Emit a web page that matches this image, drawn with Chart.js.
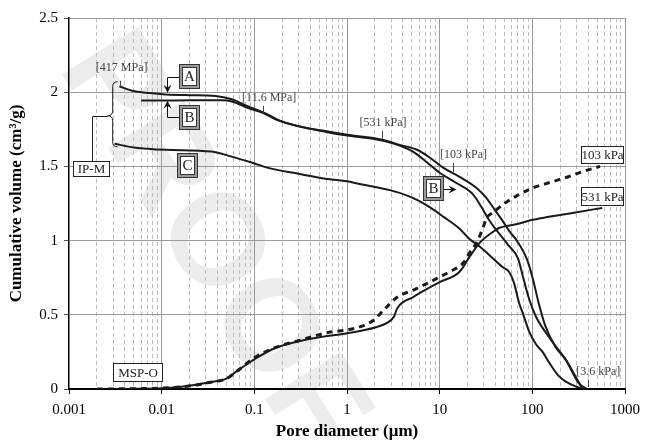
<!DOCTYPE html>
<html>
<head>
<meta charset="utf-8">
<script src="https://cdn.jsdelivr.net/npm/chart.js@4.4.1/dist/chart.umd.min.js"></script>
<style>
  html, body { margin: 0; padding: 0; background: #fff; }
</style>
</head>
<body>
<canvas id="poreChart" width="647" height="443"></canvas>
<script>
// IP-M, sample A
const diamA = [0.0035, 0.0048, 0.0074, 0.011, 0.02, 0.038, 0.057, 0.086, 0.13, 0.18, 0.3, 0.62, 1, 2.4, 3.7, 5.7, 7.8, 11, 16.4, 25, 31.7, 40, 47, 57, 68, 88, 101, 117, 139, 178, 230, 316, 390];
const volA = [2.04, 2.01, 1.994, 1.985, 1.98, 1.975, 1.953, 1.904, 1.859, 1.814, 1.77, 1.735, 1.713, 1.68, 1.645, 1.612, 1.56, 1.49, 1.43, 1.355, 1.29, 1.2, 1.14, 1.06, 1.0, 0.87, 0.745, 0.58, 0.42, 0.283, 0.196, 0.04, 0];

// IP-M, sample B
const diamB = [0.006, 0.01, 0.02, 0.045, 0.057, 0.086, 0.13, 0.18, 0.62, 1, 2.4, 3.7, 5.2, 7.2, 10, 15, 23, 28, 34, 41, 55, 70, 79, 92, 109, 151, 230, 295, 348];
const volB = [1.944, 1.944, 1.945, 1.945, 1.937, 1.893, 1.855, 1.81, 1.73, 1.708, 1.675, 1.64, 1.598, 1.53, 1.457, 1.39, 1.31, 1.23, 1.14, 1.07, 0.97, 0.88, 0.76, 0.61, 0.49, 0.35, 0.196, 0.08, 0];

// IP-M, sample C
const diamC = [0.0031, 0.005, 0.011, 0.0345, 0.057, 0.1, 0.141, 0.3, 0.62, 1, 1.3, 2.9, 4.4, 5.7, 7.8, 11, 16.4, 21, 27, 34, 48, 56, 63, 72, 80, 92, 110, 129, 151, 191, 230, 300, 350];
const volC = [1.652, 1.628, 1.612, 1.6, 1.566, 1.52, 1.49, 1.45, 1.415, 1.4, 1.385, 1.34, 1.305, 1.274, 1.225, 1.16, 1.08, 1.01, 0.96, 0.905, 0.82, 0.79, 0.72, 0.58, 0.5, 0.39, 0.3, 0.25, 0.18, 0.09, 0.05, 0.015, 0];

// MSP-O, 531 kPa (solid)
const diam531 = [0.0035, 0.005, 0.01, 0.0154, 0.03, 0.041, 0.05, 0.063, 0.08, 0.1, 0.168, 0.295, 0.52, 1.0, 2.1, 2.7, 3.2, 3.5, 5.2, 10, 16.4, 21, 27, 37.8, 43.6, 67, 100, 151, 292, 568];
const vol531 = [0, 0.001, 0.005, 0.013, 0.04, 0.055, 0.07, 0.115, 0.16, 0.2, 0.276, 0.32, 0.35, 0.375, 0.418, 0.445, 0.486, 0.546, 0.62, 0.72, 0.79, 0.89, 0.985, 1.06, 1.085, 1.11, 1.14, 1.16, 1.19, 1.22];

// MSP-O, 103 kPa (dashed)
const diam103 = [0.002, 0.005, 0.01, 0.02, 0.03, 0.05, 0.065, 0.1, 0.17, 0.3, 0.66, 1.0, 1.4, 1.95, 2.5, 3.5, 5.2, 7.8, 10, 12.8, 18, 21, 25, 29.5, 32, 37.8, 50, 67, 101, 151, 219, 347, 537];
const vol103 = [0, 0.002, 0.006, 0.02, 0.04, 0.07, 0.12, 0.21, 0.28, 0.325, 0.384, 0.398, 0.42, 0.465, 0.533, 0.62, 0.667, 0.72, 0.755, 0.79, 0.85, 0.917, 0.985, 1.09, 1.15, 1.19, 1.25, 1.3, 1.355, 1.39, 1.42, 1.465, 1.5];

const decades = [0.001, 0.01, 0.1, 1, 10, 100, 1000];
const yTicks = [0, 0.5, 1, 1.5, 2, 2.5];

const serif = '"Liberation Serif", "Times New Roman", serif';

function toPoints(xs, ys) {
    return xs.map((v, i) => ({ x: v, y: ys[i] }));
}

const minorTicks = [];
decades.slice(0, -1).forEach(d => {
    for (let k = 2; k <= 9; k++) minorTicks.push(k * d);
});

// watermark behind everything
const watermark = {
    id: 'watermark',
    beforeDraw(chart) {
        const ctx = chart.ctx;
        ctx.save();
        ctx.translate(88, 48);
        ctx.rotate(58 * Math.PI / 180);
        ctx.font = 'bold 130px "Liberation Sans", sans-serif';
        ctx.fillStyle = '#ececec';
        ctx.textBaseline = 'middle';
        ctx.fillText('PROOF', 0, 0);
        ctx.restore();
    }
};

function arrowHead(ctx, x, y, dir) {
    // dir: 'down', 'up', 'right'
    ctx.save();
    ctx.translate(x, y);
    const rot = { down: Math.PI / 2, up: -Math.PI / 2, right: 0 }[dir];
    ctx.rotate(rot);
    ctx.beginPath();
    ctx.moveTo(0, 0);
    ctx.lineTo(-8, -4);
    ctx.lineTo(-5, 0);
    ctx.lineTo(-8, 4);
    ctx.closePath();
    ctx.fillStyle = '#111';
    ctx.fill();
    ctx.restore();
}

function letterBox(ctx, cx, cy, text) {
    const w = 21, h = 25;
    const l = Math.round(cx - w / 2), t = Math.round(cy - h / 2);
    ctx.fillStyle = '#fff';
    ctx.fillRect(l, t, w, h);
    ctx.strokeStyle = '#9a9a9a';
    ctx.lineWidth = 3;
    ctx.strokeRect(l + 1.5, t + 1.5, w - 3, h - 3);
    ctx.strokeStyle = '#333';
    ctx.lineWidth = 1;
    ctx.strokeRect(l + 0.5, t + 0.5, w - 1, h - 1);
    ctx.strokeRect(l + 3.5, t + 3.5, w - 7, h - 7);
    ctx.fillStyle = '#222';
    ctx.font = '15px ' + serif;
    ctx.textAlign = 'center';
    ctx.textBaseline = 'middle';
    ctx.fillText(text, l + w / 2, t + h / 2 + 1);
}

function plainBox(ctx, cx, cy, w, h, text) {
    const l = Math.round(cx - w / 2), t = Math.round(cy - h / 2);
    ctx.fillStyle = '#fff';
    ctx.fillRect(l, t, w, h);
    ctx.strokeStyle = '#222';
    ctx.lineWidth = 1;
    ctx.strokeRect(l + 0.5, t + 0.5, w - 1, h - 1);
    ctx.fillStyle = '#222';
    ctx.font = '13px ' + serif;
    ctx.textAlign = 'center';
    ctx.textBaseline = 'middle';
    ctx.fillText(text, l + w / 2, t + h / 2 + 1);
}

const annotations = {
    id: 'annotations',
    afterDatasetsDraw(chart) {
        const { ctx, scales: { x, y } } = chart;
        const X = v => x.getPixelForValue(v);
        const Y = v => y.getPixelForValue(v);
        ctx.save();

        // pressure markers
        const marks = [
            { text: '[417 MPa]', x: 0.0037, y: 2.165, tx: 0.00351, t1: 2.077, t2: 2.036 },
            { text: '[11.6 MPa]', x: 0.1447, y: 1.962, tx: 0.1247, t1: 1.908, t2: 1.854 },
            { text: '[531 kPa]', x: 2.45, y: 1.794, tx: 2.4, t1: 1.74, t2: 1.686 },
            { text: '[103 kPa]', x: 18.1, y: 1.578, tx: 13.8, t1: 1.524, t2: 1.463 },
            { text: '[3.6 kPa]', x: 514, y: 0.115, tx: 402, t1: 0.061, t2: 0.013 }
        ];
        ctx.font = '12px ' + serif;
        ctx.textAlign = 'center';
        ctx.textBaseline = 'middle';
        marks.forEach(m => {
            ctx.fillStyle = '#444';
            ctx.fillText(m.text, X(m.x), Y(m.y));
            ctx.strokeStyle = '#444';
            ctx.lineWidth = 1;
            ctx.beginPath();
            ctx.moveTo(Math.round(X(m.tx)) + 0.5, Y(m.t1));
            ctx.lineTo(Math.round(X(m.tx)) + 0.5, Y(m.t2));
            ctx.stroke();
        });

        // arrows for A and B near the top
        ctx.strokeStyle = '#111';
        ctx.lineWidth = 1;
        const ax = Math.round(X(0.01146)) + 0.5;
        ctx.beginPath();
        ctx.moveTo(X(0.01995) - 10, Math.round(Y(2.104)) + 0.5);
        ctx.lineTo(ax, Math.round(Y(2.104)) + 0.5);
        ctx.lineTo(ax, Y(1.996) - 2);
        ctx.stroke();
        arrowHead(ctx, ax, Y(1.996), 'down');
        ctx.beginPath();
        ctx.moveTo(X(0.01995) - 10, Math.round(Y(1.834)) + 0.5);
        ctx.lineTo(ax, Math.round(Y(1.834)) + 0.5);
        ctx.lineTo(ax, Y(1.942) + 2);
        ctx.stroke();
        arrowHead(ctx, ax, Y(1.942), 'up');

        // arrow for the second B
        const by = Math.round(Y(1.349)) + 0.5;
        ctx.beginPath();
        ctx.moveTo(X(11.04), by);
        ctx.lineTo(X(15.2) - 3, by);
        ctx.stroke();
        arrowHead(ctx, X(15.2), by, 'right');

        letterBox(ctx, X(0.01995), Y(2.107), 'A');
        letterBox(ctx, X(0.01995), Y(1.831), 'B');
        letterBox(ctx, X(0.01897), Y(1.507), 'C');
        letterBox(ctx, X(8.51), Y(1.349), 'B');

        // IP-M bracket
        const bx = X(0.00296), tipX = X(0.00261), endX = X(0.00334);
        const top = Y(2.07), mid = Y(1.841), bot = Y(1.632);
        ctx.strokeStyle = '#222';
        ctx.lineWidth = 1;
        ctx.beginPath();
        ctx.moveTo(endX, top);
        ctx.quadraticCurveTo(bx, top, bx, top + 5);
        ctx.lineTo(bx, mid - 5);
        ctx.quadraticCurveTo(bx, mid, tipX, mid);
        ctx.quadraticCurveTo(bx, mid, bx, mid + 5);
        ctx.lineTo(bx, bot - 5);
        ctx.quadraticCurveTo(bx, bot, endX, bot);
        ctx.stroke();
        const ipx = Math.round(X(0.00176)) + 0.5;
        ctx.beginPath();
        ctx.moveTo(ipx, Y(1.48) - 8);
        ctx.lineTo(ipx, Math.round(mid) + 0.5);
        ctx.lineTo(tipX, Math.round(mid) + 0.5);
        ctx.stroke();
        plainBox(ctx, X(0.00174), Y(1.48), 37, 16, 'IP-M');

        plainBox(ctx, X(0.00561), Y(0.111), 50, 19, 'MSP-O');
        plainBox(ctx, X(574), Y(1.578), 43, 18, '103 kPa');
        plainBox(ctx, X(574), Y(1.298), 43, 19, '531 kPa');

        ctx.restore();
    }
};

const lineStyle = {
    borderColor: '#1a1a1a',
    borderWidth: 2,
    pointRadius: 0,
    showLine: true,
    fill: false,
    cubicInterpolationMode: 'monotone'
};

const ctx = document.getElementById('poreChart').getContext('2d');

const data = {
    datasets: [
        Object.assign({ label: 'IP-M A', data: toPoints(diamA, volA) }, lineStyle),
        Object.assign({ label: 'IP-M B', data: toPoints(diamB, volB) }, lineStyle),
        Object.assign({ label: 'IP-M C', data: toPoints(diamC, volC) }, lineStyle),
        Object.assign({ label: 'MSP-O 531 kPa', data: toPoints(diam531, vol531) }, lineStyle),
        Object.assign({ label: 'MSP-O 103 kPa', data: toPoints(diam103, vol103) }, lineStyle, { borderWidth: 3, borderDash: [6, 5] })
    ]
};

const config = {
    type: 'scatter',
    data: data,
    options: {
        responsive: false,
        animation: false,
        devicePixelRatio: 1,
        layout: { padding: { top: 18, right: 17, left: 0, bottom: 0 } },
        plugins: {
            legend: { display: false },
            title: { display: false },
            tooltip: { enabled: false }
        },
        scales: {
            x: {
                type: 'logarithmic',
                min: 0.001,
                max: 1000,
                afterBuildTicks: s => { s.ticks = decades.map(v => ({ value: v })); },
                afterFit: s => { s.height = 54; },
                ticks: {
                    autoSkip: false,
                    maxRotation: 0,
                    padding: 7,
                    color: '#000',
                    font: { family: serif, size: 15 },
                    callback: v => String(v)
                },
                grid: {
                    color: c => (c.tick && c.tick.value === 0.001) ? 'rgba(0,0,0,0)' : '#9a9a9a',
                    tickLength: 5,
                    tickColor: '#000'
                },
                border: { color: '#000', width: 2 },
                title: {
                    display: true,
                    text: 'Pore diameter (μm)',
                    color: '#000',
                    font: { family: serif, size: 17, weight: 'bold' },
                    padding: { top: 0, bottom: 1 }
                }
            },
            xMinor: {
                type: 'logarithmic',
                position: 'bottom',
                min: 0.001,
                max: 1000,
                afterBuildTicks: s => { s.ticks = minorTicks.map(v => ({ value: v })); },
                afterFit: s => { s.height = 0; },
                ticks: { display: false },
                grid: { color: '#bdbdbd', drawTicks: false },
                border: { display: false, dash: [4, 3] }
            },
            y: {
                min: 0,
                max: 2.5,
                afterBuildTicks: s => { s.ticks = yTicks.map(v => ({ value: v })); },
                afterFit: s => { s.width = 69; },
                ticks: {
                    padding: 6,
                    color: '#000',
                    font: { family: serif, size: 15 },
                    callback: v => String(v)
                },
                grid: {
                    color: c => (c.tick && c.tick.value === 0) ? 'rgba(0,0,0,0)' : '#9a9a9a',
                    tickLength: 5,
                    tickColor: '#555'
                },
                border: { color: '#000', width: 1.5 },
                title: {
                    display: true,
                    text: 'Cumulative volume (cm³/g)',
                    color: '#000',
                    font: { family: serif, size: 17, weight: 'bold' },
                    padding: { top: 6, bottom: 0 }
                }
            }
        }
    },
    plugins: [watermark, annotations]
};

if (window.poreChart instanceof Chart) {
    window.poreChart.destroy();
}
window.poreChart = new Chart(ctx, config);
</script>
</body>
</html>
